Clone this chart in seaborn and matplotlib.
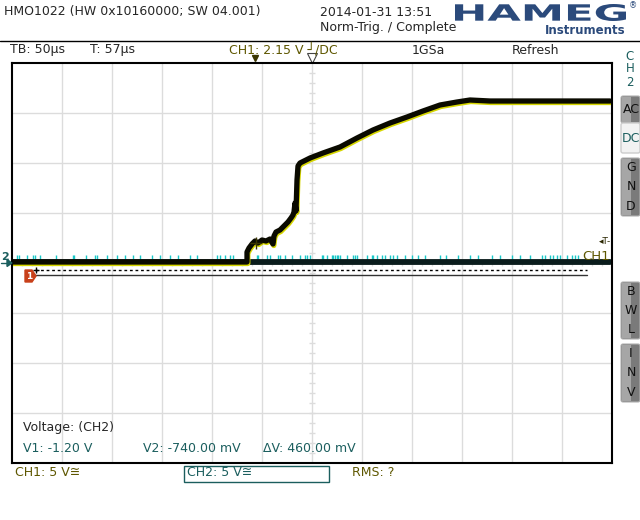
import numpy as np
import pandas as pd
import seaborn as sns
import matplotlib
matplotlib.use("Agg")
from matplotlib import pyplot as plt
from matplotlib.patches import Rectangle, FancyBboxPatch, Polygon, PathPatch
from matplotlib.textpath import TextPath
from matplotlib.font_manager import FontProperties
from matplotlib.transforms import Affine2D, offset_copy

# CH1 trace: time in us relative to screen centre, volts (5 V/div)
ch1_time = [-300, -65, -65, -63, -60, -57, -54, -50, -46, -42, -39, -38, -36, -32,
            -28, -24, -21, -19, -18, -17, -16, -15, -14, -12, -2, 11, 28, 45, 61,
            78, 95, 111, 128, 145, 158, 178, 298]
ch1_volt = [0.1, 0.1, 1.1, 1.5, 1.9, 2.2, 2.0, 2.3, 2.2, 2.4, 1.9, 2.7, 3.1, 3.3,
            3.7, 4.1, 4.5, 4.8, 5.1, 6.0, 5.2, 8.3, 9.7, 10.0, 10.5, 11.0, 11.6, 12.5, 13.3,
            14.0, 14.6, 15.2, 15.8, 16.1, 16.3, 16.2, 16.2]

# CH2 trace (flat) and its noise spikes
ch2_time = [-300, 298]
ch2_volt = [0.1, 0.1]
ch2_spikes = [-295, -293, -285, -279, -277, -272, -256, -239, -238, -226, -217, -215,
              -205, -195, -187, -179, -172, -160, -152, -142, -134, -122, -115, -95,
              -92, -87, -82, -79, -55, -54, -45, -42, -34, -32, -27, -20, -12, -7, -5,
              -2, 10, 11, 15, 20, 21, 23, 25, 26, 28, 35, 41, 43, 45, 55, 60, 61, 65,
              70, 73, 78, 81, 85, 93, 100, 106, 113, 128, 134, 146, 158, 166, 180, 188,
              200, 208, 218, 230, 233, 238, 241, 245, 248, 255, 260, 263, 266]

# cursors (CH2) and trigger
cursor_v1 = -1.20
cursor_v2 = -0.74
trig_time = -57
trig_level = 2.15

olive = "#5e5700"
teal = "#1b5e5e"
grid_c = "#dcdcdc"

sns.set_theme(style="white")
plt.rcParams['font.family'] = ['DejaVu Sans']

fig = plt.figure(figsize=(6.4, 5.2), dpi=100)
ax = fig.add_axes([12 / 640, 1 - 463 / 520, 600 / 640, 400 / 520])
ax.set_facecolor("white")

bg = fig.add_axes([0, 0, 1, 1])
bg.set_xlim(0, 640)
bg.set_ylim(520, 0)
bg.axis('off')
bg.set_zorder(3)

# graticule
ax.set_xticks(np.arange(-250, 300, 50))
ax.set_yticks(np.arange(-15, 20, 5))
ax.grid(True, color=grid_c, lw=1)
ax.tick_params(length=0, labelbottom=False, labelleft=False)
ax.hlines(np.arange(-19, 20, 1), -3, 3, color=grid_c, lw=1)
ax.vlines(np.arange(-290, 300, 10), -0.3, 0.3, color=grid_c, lw=1)
for s in ax.spines.values():
    s.set_color("black")
    s.set_linewidth(1.5)
    s.set_zorder(5)

# CH2 trace
ax.vlines(ch2_spikes, 0, 0.85, color="#19c8c8", lw=1)
sns.lineplot(x=ch2_time, y=ch2_volt, color="#0a1c1c", lw=4.2, estimator=None, ax=ax)

# CH1 trace
df1 = pd.DataFrame({"t": ch1_time, "v": ch1_volt})
shift = offset_copy(ax.transData, fig=fig, x=0.8, y=-1.5, units='dots')
sns.lineplot(data=df1, x="t", y="v", sort=False, estimator=None, color="#d6d600",
             lw=3.8, ax=ax, transform=shift)
sns.lineplot(data=df1, x="t", y="v", sort=False, estimator=None, color="#0a0a00",
             lw=3.8, ax=ax)
ax.plot([trig_time + 1], [trig_level - 0.1], marker='+', ms=9, mew=1, color="#3a3500")

# cursor lines
ax.plot([-277, 275], [cursor_v2, cursor_v2], color="black", lw=1, ls=(0, (2, 2)))
ax.plot([-279, 275], [cursor_v1, cursor_v1], color="#333333", lw=1)
ax.plot([-276], [cursor_v2], marker='+', ms=5, mew=1, color="black")

ax.set_xlim(-300, 300)
ax.set_ylim(-20, 20)
ax.set_xlabel("")
ax.set_ylabel("")

# trigger markers
ax.plot([trig_time], [20.5], marker='v', ms=4, color="#3a3500", clip_on=False)
ax.plot([0], [20.5], marker='v', ms=7, mfc="white", mec="#444444", mew=0.8, clip_on=False)
ax.text(299, trig_level, "\u25c2T-", ha="right", va="center", fontsize=6.5, color="#2a2600")
ax.text(298, 0.6, "CH1", ha="right", va="center", fontsize=9.5, color=olive)

# channel markers on the left
bg.text(5, 257, "2", ha="center", va="center", fontsize=8, color=teal, fontweight="bold")
bg.plot([1, 8], [263, 263], color=teal, lw=1)
bg.add_patch(Polygon([(7, 259.5), (12, 263), (7, 266.5)], closed=True, color=teal))
bg.add_patch(Polygon([(25, 270), (32, 270), (36, 276), (32, 282), (25, 282)], closed=True,
                     color="#c8401a"))
bg.text(29.5, 276.5, "1", ha="center", va="center", fontsize=6.5, color="white", fontweight="bold")

# header
bg.text(4, 12, "HMO1022 (HW 0x10160000; SW 04.001)", fontsize=9, va="center")
bg.text(320, 12, "2014-01-31 13:51", fontsize=9, va="center")
bg.text(320, 27, "Norm-Trig. / Complete", fontsize=9, va="center")
bg.plot([0, 640], [41, 41], color="black", lw=1)

fp = FontProperties(family="DejaVu Sans", weight="bold")
tp = TextPath((0, 0), "HAMEG", size=10, prop=fp)
ext = tp.get_extents()
sx = (626 - 455) / ext.width
sy = (21 - 4) / ext.height
tr = Affine2D().translate(-ext.x0, -ext.y0).scale(sx, -sy).translate(455, 21) + bg.transData
bg.add_patch(PathPatch(tp, transform=tr, color="#2b4a7b", lw=0))
bg.text(629, 6, "\u00ae", fontsize=6, color="#2b4a7b", ha="left", va="center")
bg.text(626, 31, "Instruments", fontsize=8.5, fontweight="bold", color="#2b4a7b",
        ha="right", va="center")

# top status row
bg.text(10, 50, "TB: 50\u00b5s", fontsize=9, va="center")
bg.text(90, 50, "T: 57\u00b5s", fontsize=9, va="center")
bg.text(229, 50, "CH1: 2.15 V \u2518/DC", fontsize=9, va="center", color=olive)
bg.text(412, 50, "1GSa", fontsize=9, va="center")
bg.text(512, 50, "Refresh", fontsize=9, va="center")

# right side buttons
for i, ch in enumerate("CH2"):
    bg.text(630, 56 + 13 * i, ch, fontsize=8.5, color=teal, ha="center", va="center")

def button(y0, y1, labels, light=False):
    if light:
        bg.add_patch(FancyBboxPatch((621, y0), 19, y1 - y0, boxstyle="round,pad=0,rounding_size=2",
                                    fc="#f2f2f2", ec="#cccccc", lw=1))
    else:
        bg.add_patch(FancyBboxPatch((621, y0), 19, y1 - y0, boxstyle="round,pad=0,rounding_size=2",
                                    fc="#7a7a7a", ec="#b0b0b0", lw=0.8))
        bg.add_patch(Rectangle((621.5, y0 + 1), 9, y1 - y0 - 2, fc="#a6a6a6", lw=0))
    n = len(labels)
    step = (y1 - y0) / n
    for k, lab in enumerate(labels):
        bg.text(631, y0 + step * (k + 0.5), lab, fontsize=9, ha="center", va="center",
                color=teal if light else "#111111")

button(96, 123, ["AC"])
button(123, 153, ["DC"], light=True)
button(158, 216, ["G", "N", "D"])
button(282, 339, ["B", "W", "L"])
button(344, 402, ["I", "N", "V"])

# measurement box
bg.text(23, 428, "Voltage: (CH2)", fontsize=9, va="center")
bg.text(23, 449, "V1: -1.20 V", fontsize=9, va="center", color=teal)
bg.text(143, 449, "V2: -740.00 mV", fontsize=9, va="center", color=teal)
bg.text(263, 449, "\u0394V: 460.00 mV", fontsize=9, va="center", color=teal)

# bottom row
bg.text(15, 473, "CH1: 5 V\u2245", fontsize=9, va="center", color=olive)
bg.add_patch(Rectangle((184, 466), 145, 16, fill=False, ec=teal, lw=1))
bg.text(187, 473, "CH2: 5 V\u2245", fontsize=9, va="center", color=teal)
bg.text(352, 473, "RMS: ?", fontsize=9, va="center", color=olive)

fig.savefig("out.png", dpi=100)
